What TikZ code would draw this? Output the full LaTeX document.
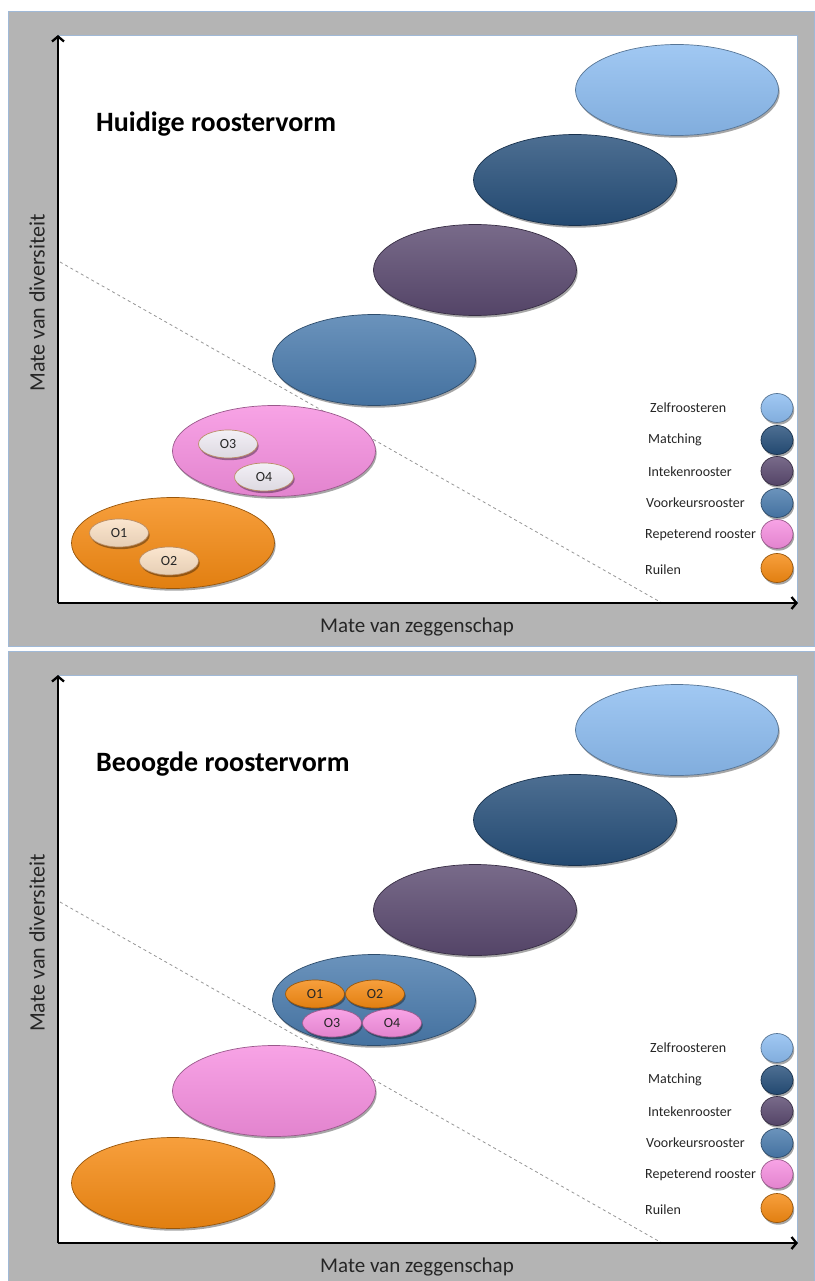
\documentclass[tikz,border=0pt]{standalone}
\usepackage{fontspec}
\setmainfont{Carlito}
\usetikzlibrary{shapes.geometric,shadows,arrows.meta}

\definecolor{panelgrey}{RGB}{180,180,180}
\definecolor{frameblue}{RGB}{160,185,215}
\definecolor{textgrey}{RGB}{38,38,38}
\definecolor{dashgrey}{RGB}{150,150,150}
\definecolor{zelfc}{RGB}{140,188,240}
\definecolor{matchc}{RGB}{38,79,122}
\definecolor{intekc}{RGB}{91,74,112}
\definecolor{voorkc}{RGB}{74,123,173}
\definecolor{repetc}{RGB}{246,143,224}
\definecolor{ruilc}{RGB}{245,138,18}
\definecolor{pearlc}{RGB}{240,236,244}
\definecolor{peachc}{RGB}{250,224,196}
\definecolor{rimbrown}{RGB}{185,140,100}

\tikzset{
  glossy/.style={ellipse, inner sep=0pt, draw=#1!62!black, line width=0.7pt,
    top color=#1!82!white, middle color=#1, bottom color=#1!92!black,
    drop shadow={shadow xshift=1.2pt, shadow yshift=-2.2pt, opacity=0.35, fill=black}},
  bigell/.style={glossy=#1, minimum width=203pt, minimum height=91pt},
  smallell/.style={glossy=#1, minimum width=59pt, minimum height=28pt,
    font=\fontsize{14}{16}\selectfont, text=textgrey},
  rimell/.style={smallell=#1, draw=rimbrown},
  legdot/.style={glossy=#1, minimum width=32pt, minimum height=29pt},
  legtext/.style={anchor=west, inner sep=0pt, font=\fontsize{14}{16}\selectfont, text=textgrey},
  axislabel/.style={inner sep=0pt, font=\fontsize{21}{24}\selectfont, text=textgrey},
  paneltitle/.style={anchor=west, inner sep=0pt, font=\fontsize{28}{32}\selectfont\bfseries, text=black},
  axisline/.style={line width=2.3pt, -{Straight Barb[length=5pt,width=12pt,line width=2.3pt]}},
  divider/.style={dashgrey, line width=0.8pt, dash pattern=on 3pt off 3pt}
}

% common frame, axes, level ellipses and legend of one panel
\newcommand{\drawpanel}[2]{%
  \fill[panelgrey, draw=frameblue, line width=0.8pt] (8,11) rectangle (814,646);
  \fill[white, draw=frameblue, line width=0.8pt] (58,35) rectangle (797,603);
  \coordinate (o-#1) at (58,603);
  \coordinate (ytip-#1) at (58,35);
  \coordinate (xtip-#1) at (798,603);
  \coordinate (ds-#1) at (60,262);
  \coordinate (de-#1) at (662,603);
  \draw[divider] (ds-#1) -- (de-#1);
  \draw[axisline] (o-#1) -- (ytip-#1);
  \draw[axisline] (o-#1) -- (xtip-#1);
  \node[axislabel, font=\fontsize{22}{24}\selectfont, rotate=90] (ylab-#1) at (37,303) {Mate van diversiteit};
  \node[axislabel] (xlab-#1) at (417,627) {Mate van zeggenschap};
  \node[paneltitle] (title-#1) at (96,124) {#2};
  \node[bigell=ruilc]  (ruil-#1)  at (173,543) {};
  \node[bigell=repetc] (repet-#1) at (274,451) {};
  \node[bigell=voorkc] (voork-#1) at (374,360) {};
  \node[bigell=intekc] (intek-#1) at (475,270) {};
  \node[bigell=matchc] (match-#1) at (575,180) {};
  \node[bigell=zelfc]  (zelf-#1)  at (677,90) {};
  \node[legdot=zelfc]  (dz-#1) at (777,408) {};
  \node[legdot=matchc] (dm-#1) at (777,440) {};
  \node[legdot=intekc] (di-#1) at (777,471) {};
  \node[legdot=voorkc] (dv-#1) at (777,503) {};
  \node[legdot=repetc] (dr-#1) at (777,534) {};
  \node[legdot=ruilc]  (du-#1) at (777,568) {};
  \node[legtext] (tz-#1) at (650,408) {Zelfroosteren};
  \node[legtext] (tm-#1) at (648,440) {Matching};
  \node[legtext] (ti-#1) at (648,472) {Intekenrooster};
  \node[legtext] (tv-#1) at (646,503) {Voorkeursrooster};
  \node[legtext] (tr-#1) at (645,535) {Repeterend rooster};
  \node[legtext] (tu-#1) at (645,570) {Ruilen};
}

\begin{document}
\begin{tikzpicture}[x=1pt,y=-1pt]
  \useasboundingbox (0,0) rectangle (814,1281);

  % current situation
  \begin{scope}
    \drawpanel{a}{Huidige roostervorm}
    \node[rimell=peachc] (o1-a) at (119,533) {O1};
    \node[rimell=peachc] (o2-a) at (169,561) {O2};
    \node[rimell=pearlc] (o3-a) at (228,444) {O3};
    \node[rimell=pearlc] (o4-a) at (264,477) {O4};
  \end{scope}

  % intended situation
  \begin{scope}[shift={(0,640)}]
    \drawpanel{b}{Beoogde roostervorm}
    \node[smallell=ruilc]  (o1-b) at (315,354) {O1};
    \node[smallell=ruilc]  (o2-b) at (375,354) {O2};
    \node[smallell=repetc] (o3-b) at (332,383) {O3};
    \node[smallell=repetc] (o4-b) at (392,383) {O4};
  \end{scope}
\end{tikzpicture}
\end{document}
